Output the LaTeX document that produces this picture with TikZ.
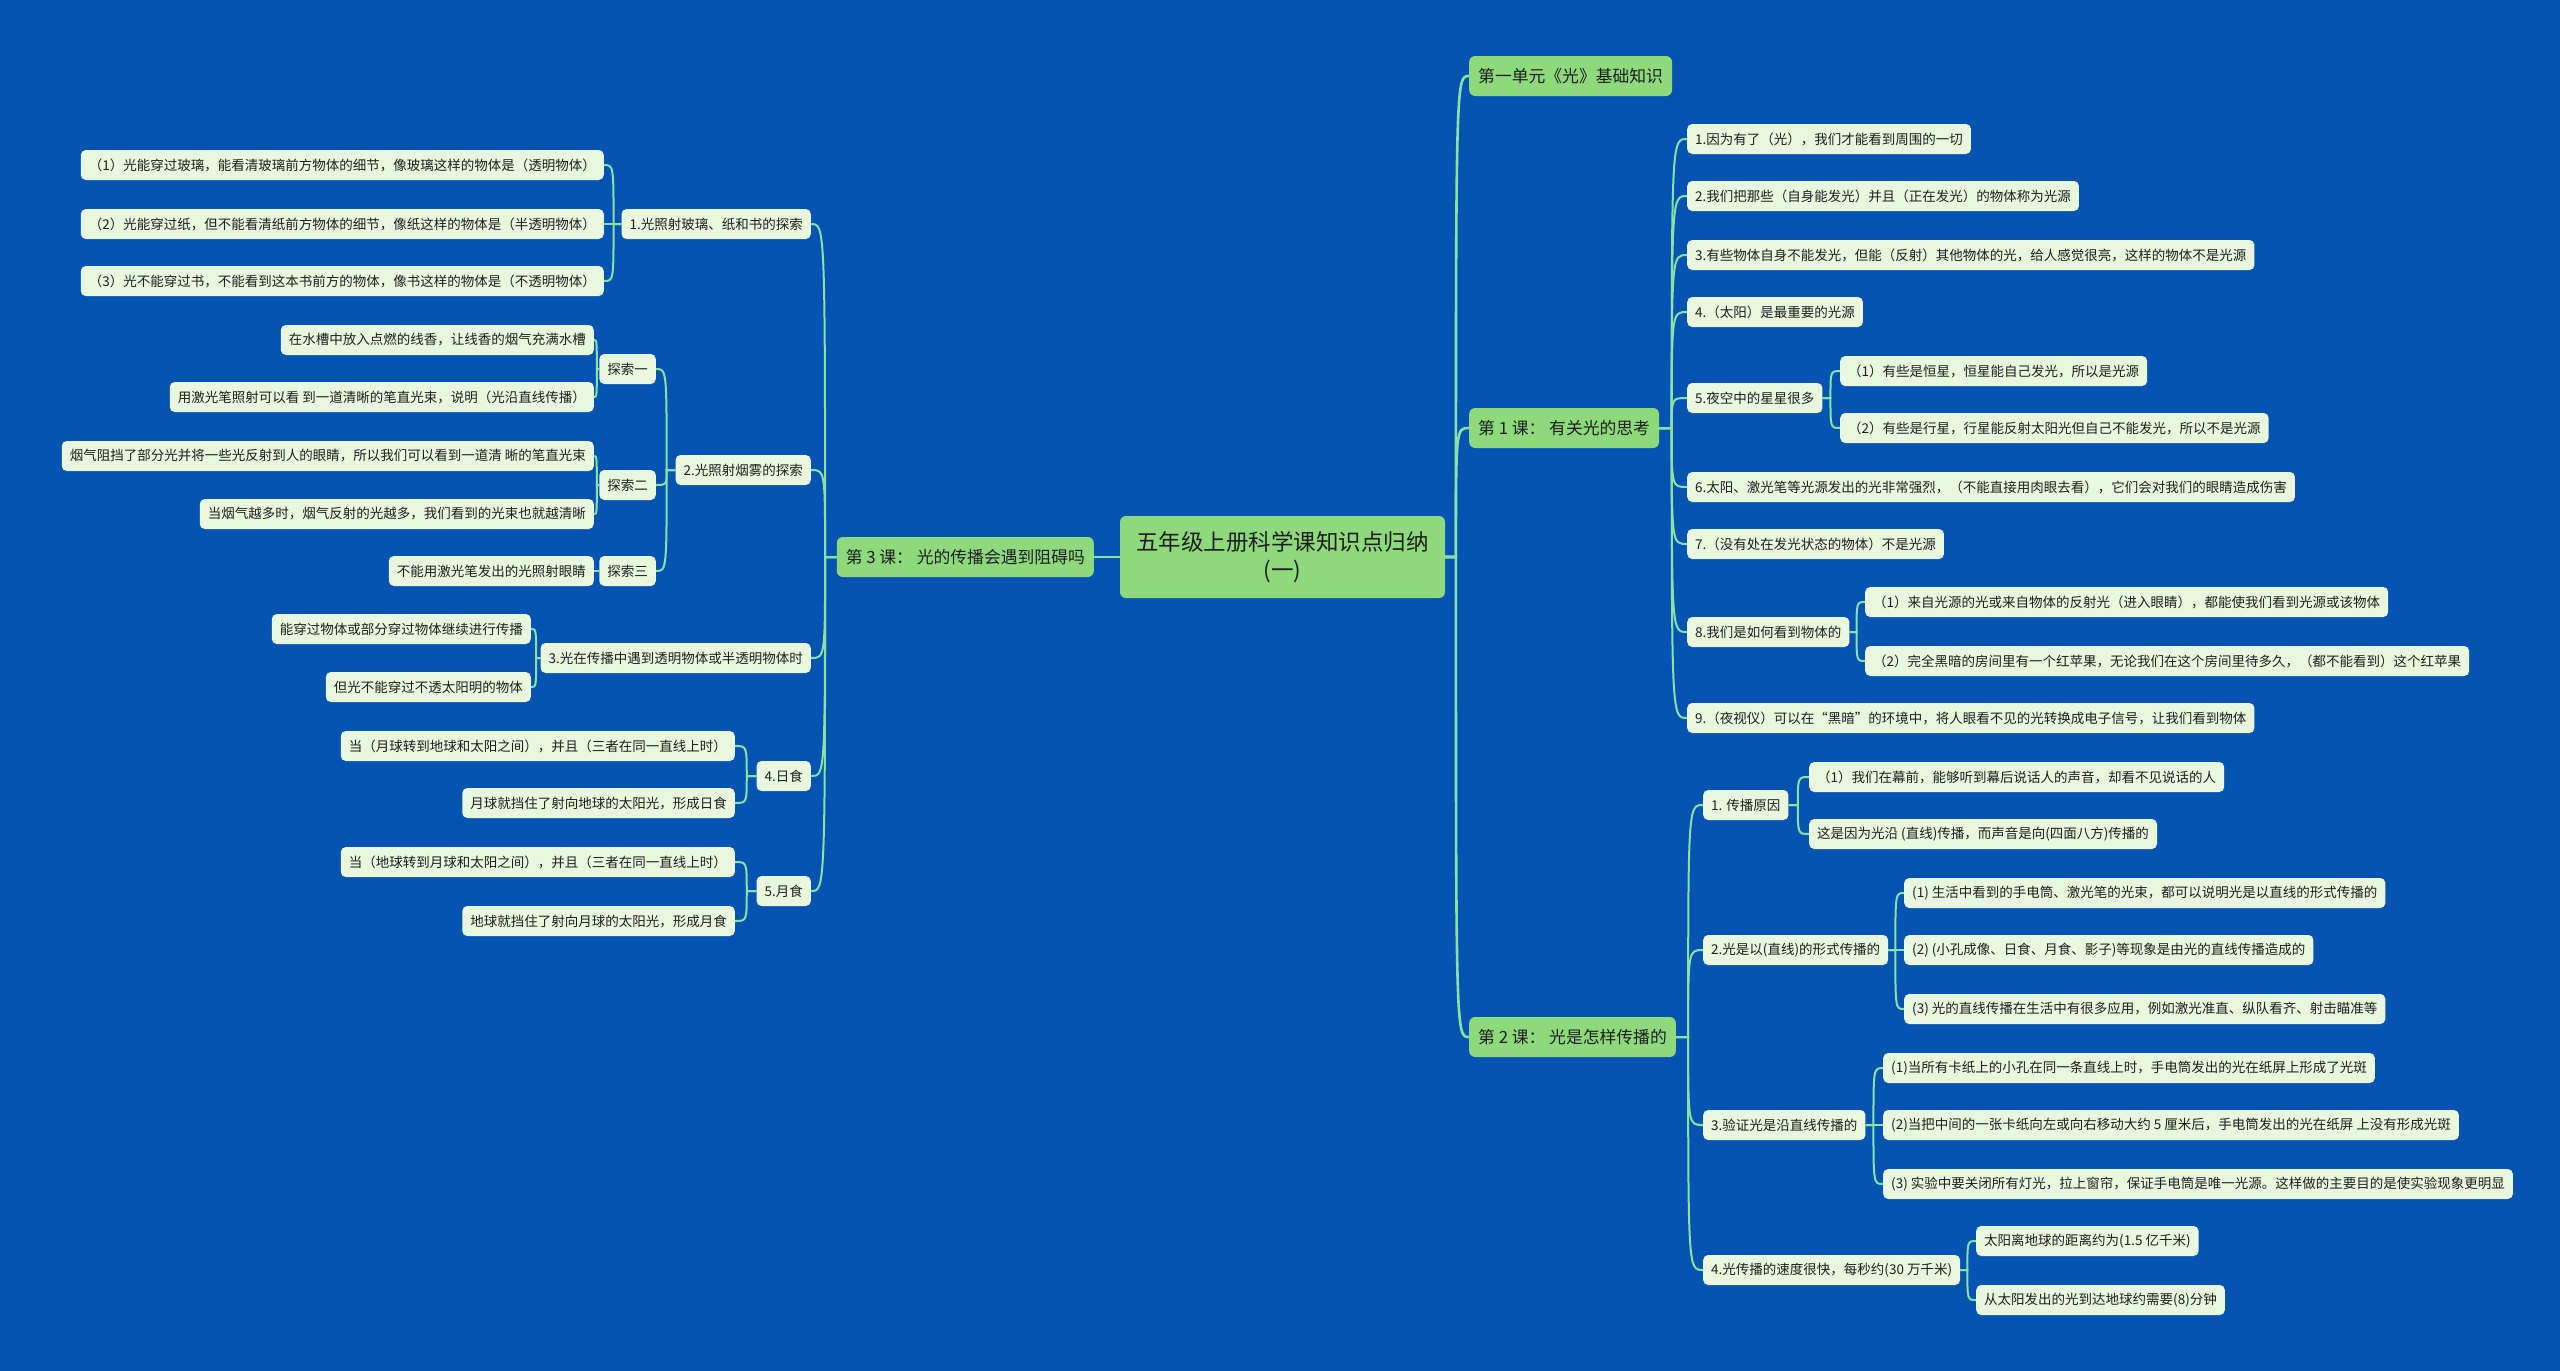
\documentclass[tikz,border=0pt]{standalone}
\usepackage{fontspec}
\setmainfont{Noto Sans CJK SC}
\usetikzlibrary{calc}
\definecolor{bg}{HTML}{0654B1}
\definecolor{gr}{HTML}{8ED97C}
\definecolor{lf}{HTML}{E8F7DE}
\definecolor{ln}{HTML}{8BE0A4}
\definecolor{tx}{HTML}{1E1E1E}
\newcommand\cR[3][conn]{\draw[#1] let \p1=(#2.east), \p2=(#3.west) in (\p1) -- ({\x1+0.45*(\x2-\x1)},\y1) .. controls ({\x1+0.45*(\x2-\x1)},\y2) .. (\p2);}
\newcommand\cL[3][conn]{\draw[#1] let \p1=(#2.west), \p2=(#3.east) in (\p1) -- ({\x1+0.45*(\x2-\x1)},\y1) .. controls ({\x1+0.45*(\x2-\x1)},\y2) .. (\p2);}
\begin{document}
\begin{tikzpicture}[x=1pt,y=-1pt,
 leaf/.style={fill=lf, rounded corners=5pt, inner xsep=8pt, inner ysep=2pt, minimum height=30pt, text=tx, font=\fontsize{13.5}{15}\selectfont},
 lone/.style={fill=gr, rounded corners=6pt, inner xsep=9pt, inner ysep=2pt, minimum height=40pt, text=tx, font=\fontsize{16.8}{19}\selectfont},
 rootn/.style={fill=gr, rounded corners=6pt, minimum width=325pt, minimum height=82pt, align=center, text=tx, font=\fontsize{22.5}{28}\selectfont},
 conn/.style={draw=ln, line width=2pt},
 mconn/.style={draw=ln, line width=2.6pt}]
\fill[bg] (0,0) rectangle (2560,1371);
\useasboundingbox (0,0) rectangle (2560,1371);

% root
\node[rootn] (root) at (1282.5,557) {五年级上册科学课知识点归纳\\(一)};

% level 1
\node[lone, anchor=west] (u1) at (1469,76) {第一单元《光》基础知识};
\node[lone, anchor=west] (k1) at (1469,428) {第 1 课：\ 有关光的思考};
\node[lone, anchor=west] (k2) at (1469,1037) {第 2 课：\ 光是怎样传播的};
\node[lone, anchor=east] (k3) at (1094,557) {第 3 课：\ 光的传播会遇到阻碍吗};

% lesson 1
\node[leaf, anchor=west] (a1) at (1687,139) {1.因为有了（光），我们才能看到周围的一切};
\node[leaf, anchor=west] (a2) at (1687,196) {2.我们把那些（自身能发光）并且（正在发光）的物体称为光源};
\node[leaf, anchor=west] (a3) at (1687,255) {3.有些物体自身不能发光，但能（反射）其他物体的光，给人感觉很亮，这样的物体不是光源};
\node[leaf, anchor=west] (a4) at (1687,312) {4.（太阳）是最重要的光源};
\node[leaf, anchor=west] (a5) at (1687,398) {5.夜空中的星星很多};
\node[leaf, anchor=west] (a51) at (1840,371) {（1）有些是恒星，恒星能自己发光，所以是光源};
\node[leaf, anchor=west] (a52) at (1840,428) {（2）有些是行星，行星能反射太阳光但自己不能发光，所以不是光源};
\node[leaf, anchor=west] (a6) at (1687,487) {6.太阳、激光笔等光源发出的光非常强烈，（不能直接用肉眼去看），它们会对我们的眼睛造成伤害};
\node[leaf, anchor=west] (a7) at (1687,544) {7.（没有处在发光状态的物体）不是光源};
\node[leaf, anchor=west] (a8) at (1687,632) {8.我们是如何看到物体的};
\node[leaf, anchor=west] (a81) at (1865,602) {（1）来自光源的光或来自物体的反射光（进入眼睛），都能使我们看到光源或该物体};
\node[leaf, anchor=west] (a82) at (1865,661) {（2）完全黑暗的房间里有一个红苹果，无论我们在这个房间里待多久，（都不能看到）这个红苹果};
\node[leaf, anchor=west] (a9) at (1687,718) {9.（夜视仪）可以在“黑暗”的环境中，将人眼看不见的光转换成电子信号，让我们看到物体};

% lesson 2
\node[leaf, anchor=west] (b1) at (1703,805) {1. 传播原因};
\node[leaf, anchor=west] (b11) at (1809,777) {（1）我们在幕前，能够听到幕后说话人的声音，却看不见说话的人};
\node[leaf, anchor=west] (b12) at (1809,834) {这是因为光沿 (直线)传播，而声音是向(四面八方)传播的};
\node[leaf, anchor=west] (b2) at (1703,950) {2.光是以(直线)的形式传播的};
\node[leaf, anchor=west] (b21) at (1904,893) {(1) 生活中看到的手电筒、激光笔的光束，都可以说明光是以直线的形式传播的};
\node[leaf, anchor=west] (b22) at (1904,950) {(2) (小孔成像、日食、月食、影子)等现象是由光的直线传播造成的};
\node[leaf, anchor=west] (b23) at (1904,1009) {(3) 光的直线传播在生活中有很多应用，例如激光准直、纵队看齐、射击瞄准等};
\node[leaf, anchor=west] (b3) at (1703,1125) {3.验证光是沿直线传播的};
\node[leaf, anchor=west] (b31) at (1883,1068) {(1)当所有卡纸上的小孔在同一条直线上时，手电筒发出的光在纸屏上形成了光斑};
\node[leaf, anchor=west] (b32) at (1883,1125) {(2)当把中间的一张卡纸向左或向右移动大约 5 厘米后，手电筒发出的光在纸屏 上没有形成光斑};
\node[leaf, anchor=west] (b33) at (1883,1184) {(3) 实验中要关闭所有灯光，拉上窗帘，保证手电筒是唯一光源。这样做的主要目的是使实验现象更明显};
\node[leaf, anchor=west] (b4) at (1703,1270) {4.光传播的速度很快，每秒约(30 万千米)};
\node[leaf, anchor=west] (b41) at (1976,1241) {太阳离地球的距离约为(1.5 亿千米)};
\node[leaf, anchor=west] (b42) at (1976,1300) {从太阳发出的光到达地球约需要(8)分钟};

% lesson 3
\node[leaf, anchor=east] (c1) at (811,224) {1.光照射玻璃、纸和书的探索};
\node[leaf, anchor=east] (c11) at (604,165) {（1）光能穿过玻璃，能看清玻璃前方物体的细节，像玻璃这样的物体是（透明物体）};
\node[leaf, anchor=east] (c12) at (604,224) {（2）光能穿过纸，但不能看清纸前方物体的细节，像纸这样的物体是（半透明物体）};
\node[leaf, anchor=east] (c13) at (604,281) {（3）光不能穿过书，不能看到这本书前方的物体，像书这样的物体是（不透明物体）};
\node[leaf, anchor=east] (c2) at (811,470) {2.光照射烟雾的探索};
\node[leaf, anchor=east] (c21) at (656,369) {探索一};
\node[leaf, anchor=east] (c211) at (594,340) {在水槽中放入点燃的线香，让线香的烟气充满水槽};
\node[leaf, anchor=east] (c212) at (594,397) {用激光笔照射可以看 到一道清晰的笔直光束，说明（光沿直线传播）};
\node[leaf, anchor=east] (c22) at (656,485) {探索二};
\node[leaf, anchor=east] (c221) at (594,456) {烟气阻挡了部分光并将一些光反射到人的眼睛，所以我们可以看到一道清 晰的笔直光束};
\node[leaf, anchor=east] (c222) at (594,514) {当烟气越多时，烟气反射的光越多，我们看到的光束也就越清晰};
\node[leaf, anchor=east] (c23) at (656,571) {探索三};
\node[leaf, anchor=east] (c231) at (594,571) {不能用激光笔发出的光照射眼睛};
\node[leaf, anchor=east] (c3) at (811,658) {3.光在传播中遇到透明物体或半透明物体时};
\node[leaf, anchor=east] (c31) at (531,629) {能穿过物体或部分穿过物体继续进行传播};
\node[leaf, anchor=east] (c32) at (531,687) {但光不能穿过不透太阳明的物体};
\node[leaf, anchor=east] (c4) at (811,776) {4.日食};
\node[leaf, anchor=east] (c41) at (735,746) {当（月球转到地球和太阳之间），并且（三者在同一直线上时）};
\node[leaf, anchor=east] (c42) at (735,803) {月球就挡住了射向地球的太阳光，形成日食};
\node[leaf, anchor=east] (c5) at (811,891) {5.月食};
\node[leaf, anchor=east] (c51) at (735,862) {当（地球转到月球和太阳之间），并且（三者在同一直线上时）};
\node[leaf, anchor=east] (c52) at (735,921) {地球就挡住了射向月球的太阳光，形成月食};

% connectors
\cR[mconn]{root}{u1} \cR[mconn]{root}{k1} \cR[mconn]{root}{k2} \cL[mconn]{root}{k3}
\cR{k1}{a1} \cR{k1}{a2} \cR{k1}{a3} \cR{k1}{a4} \cR{k1}{a5} \cR{k1}{a6} \cR{k1}{a7} \cR{k1}{a8} \cR{k1}{a9}
\cR{a5}{a51} \cR{a5}{a52} \cR{a8}{a81} \cR{a8}{a82}
\cR{k2}{b1} \cR{k2}{b2} \cR{k2}{b3} \cR{k2}{b4}
\cR{b1}{b11} \cR{b1}{b12}
\cR{b2}{b21} \cR{b2}{b22} \cR{b2}{b23}
\cR{b3}{b31} \cR{b3}{b32} \cR{b3}{b33}
\cR{b4}{b41} \cR{b4}{b42}
\cL{k3}{c1} \cL{k3}{c2} \cL{k3}{c3} \cL{k3}{c4} \cL{k3}{c5}
\cL{c1}{c11} \cL{c1}{c12} \cL{c1}{c13}
\cL{c2}{c21} \cL{c2}{c22} \cL{c2}{c23}
\cL{c21}{c211} \cL{c21}{c212} \cL{c22}{c221} \cL{c22}{c222} \cL{c23}{c231}
\cL{c3}{c31} \cL{c3}{c32}
\cL{c4}{c41} \cL{c4}{c42}
\cL{c5}{c51} \cL{c5}{c52}
\end{tikzpicture}
\end{document}
